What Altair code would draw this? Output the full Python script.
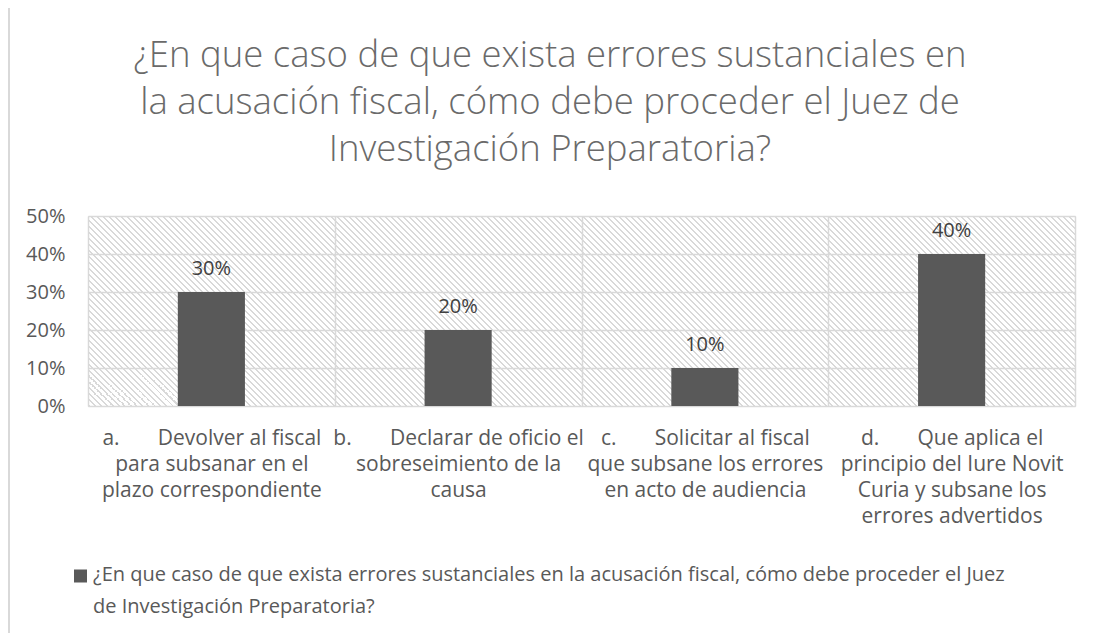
import altair as alt
import pandas as pd

NB = "\u00a0"
categories = [
    "a." + NB * 7 + "Devolver al fiscal|para subsanar en el|plazo correspondiente",
    "b." + NB * 7 + "Declarar de oficio el|sobreseimiento de la|causa",
    "c." + NB * 7 + "Solicitar al fiscal|que subsane los errores|en acto de audiencia",
    "d." + NB * 7 + "Que aplica el|principio del Iure Novit|Curia y subsane los|errores advertidos",
]
values = [0.30, 0.20, 0.10, 0.40]
series_name = ("¿En que caso de que exista errores sustanciales en la acusación fiscal, "
               "cómo debe proceder el Juez de Investigación Preparatoria?")
title_lines = [
    "¿En que caso de que exista errores sustanciales en",
    "la acusación fiscal, cómo debe proceder el Juez de",
    "Investigación Preparatoria?",
]
legend_lines = [
    "¿En que caso de que exista errores sustanciales en la acusación fiscal, cómo debe proceder el Juez",
    "de Investigación Preparatoria?",
]
y_ticks = [0, 0.1, 0.2, 0.3, 0.4, 0.5]

df = pd.DataFrame({"cat": categories, "value": values, "series": series_name})
one = pd.DataFrame({"k": [0]})
leg = pd.DataFrame({"series": [series_name], "lines": [legend_lines]})
ttl = pd.DataFrame({"lines": [title_lines]})

W, H = 987, 190
FONT = "Open Sans"
TXT = "#595959"
GRID = "#d9d9d9"

# diagonal hatch for plot background (gradient stripes, transparent gaps)
span = W + H
period = 6.0
line_w = 2.0
clear = "rgba(255,255,255,0)"
stops = [alt.GradientStop(color=GRID, offset=0)]
s = 0.0
while s < span:
    a = min(1.0, s / span)
    b = min(1.0, (s + line_w) / span)
    stops += [alt.GradientStop(color=clear, offset=a), alt.GradientStop(color=GRID, offset=a),
              alt.GradientStop(color=GRID, offset=b), alt.GradientStop(color=clear, offset=b)]
    s += period
k = (W + H) / (W * W + H * H)
grad = alt.LinearGradient(gradient="linear", stops=stops, x1=0, y1=1, x2=k * W, y2=1 - k * H)

hatch = alt.Chart(one).mark_rect(fill=grad).encode(
    x=alt.value(0), x2=alt.value(W), y=alt.value(0), y2=alt.value(H)
)

xenc = alt.X(
    "cat:N", sort=categories, title=None,
    scale=alt.Scale(paddingInner=0, paddingOuter=0),
    axis=alt.Axis(labelExpr="split(datum.label, '|')", labelAngle=0, labelFont=FONT,
                  labelFontSize=21, labelColor=TXT, labelLineHeight=26, labelPadding=21,
                  labelBaseline="top", labelLimit=400, labelOverlap=False, ticks=False,
                  domain=False, grid=True, gridColor=GRID, gridWidth=1.5, tickBand="extent"),
)
yenc = alt.Y(
    "value:Q", title=None,
    scale=alt.Scale(domain=[0, 0.5], nice=False),
    axis=alt.Axis(values=y_ticks, format=".0%", labelFont=FONT, labelFontSize=20,
                  labelColor=TXT, labelPadding=23, labelOverlap=False, ticks=False,
                  domain=False, grid=True, gridColor=GRID, gridWidth=1.5),
)

bars = alt.Chart(df).mark_bar(color="#595959", width=alt.RelativeBandSize(0.272)).encode(
    x=xenc, y=yenc
)
labels = alt.Chart(df).mark_text(
    dy=-17, baseline="alphabetic", font=FONT, fontSize=20, color="#404040"
).encode(x=xenc, y=yenc, text=alt.Text("value:Q", format=".0%"))

title_txt = alt.Chart(ttl).mark_text(
    align="center", baseline="top", font=FONT, fontSize=36.5, fontWeight=300,
    color="#6a6a6a", lineHeight=47
).encode(x=alt.value(550 - 88), y=alt.value(38 - 216), text="lines")

leg_sq = alt.Chart(leg).mark_square(size=169, color="#595959", opacity=1, filled=True).encode(
    x=alt.value(80.5 - 88), y=alt.value(576 - 216)
)
leg_txt = alt.Chart(leg).mark_text(
    align="left", baseline="top", font=FONT, fontSize=20, color=TXT, lineHeight=32
).encode(x=alt.value(93 - 88), y=alt.value(565 - 216), text="lines")

border_top = alt.Chart(one).mark_rule(color=GRID, strokeWidth=2).encode(
    x=alt.value(-80), x2=alt.value(W + 20), y=alt.value(-215)
)
border_left = alt.Chart(one).mark_rule(color=GRID, strokeWidth=2).encode(
    x=alt.value(-79), y=alt.value(-216), y2=alt.value(H + 240)
)

chart = alt.layer(hatch, bars, labels, title_txt, leg_sq, leg_txt, border_top, border_left).properties(
    width=W, height=H,
    autosize=alt.AutoSizeParams(type="none"),
    padding={"left": 80, "top": 208, "right": 11, "bottom": 227},
).configure_view(stroke=GRID, strokeWidth=1.5).configure(background="white")

chart.save("out.html", embed_options={"renderer": "svg", "actions": False})
